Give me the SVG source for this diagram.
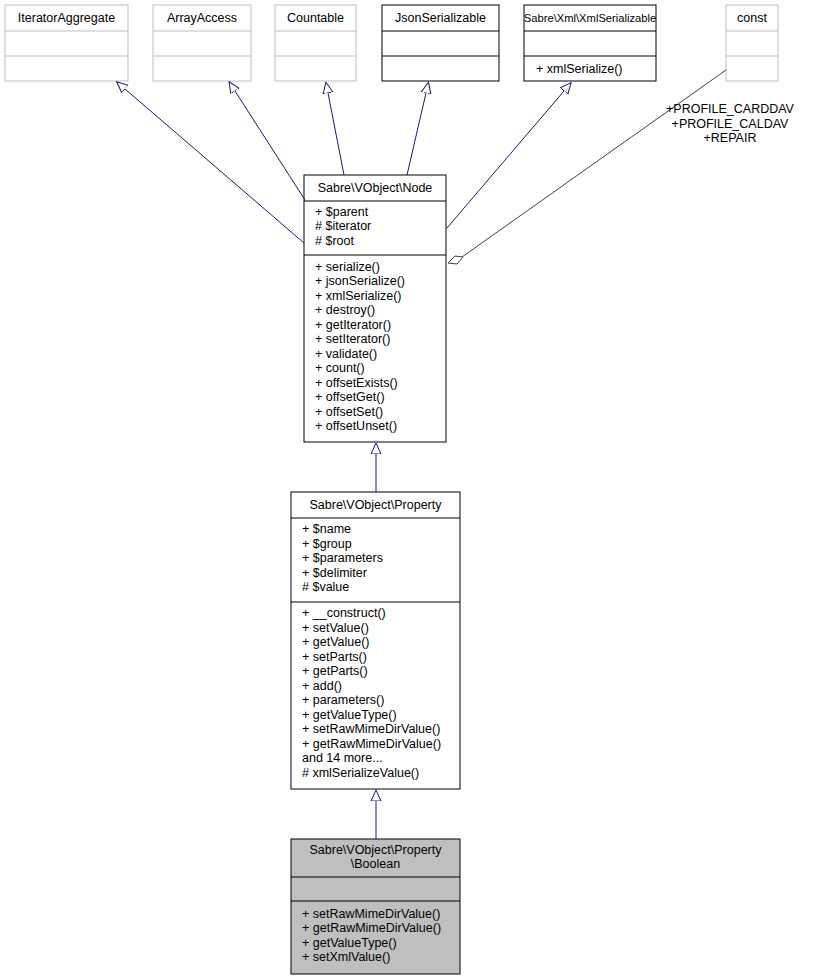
<svg xmlns="http://www.w3.org/2000/svg" width="827" height="980" viewBox="0 0 827 980">
<style>
text{font-family:"Liberation Sans",Arial,sans-serif;font-size:12.5px;fill:#000}
.g rect,.g line{stroke:#bfbfbf;fill:#fff}
.b rect,.b line{stroke:#000;fill:#fff}
.e{stroke:#191970;fill:none}
</style>
<defs>
<marker id="tri" viewBox="0 0 12 12" refX="0" refY="6" markerWidth="12" markerHeight="12" orient="auto-start-reverse" markerUnits="userSpaceOnUse">
<path d="M11,6 L0,1 L0,11 Z" fill="#fff" stroke="#191970"/>
</marker>
</defs>
<rect width="827" height="980" fill="#fff"/>
<g id="IteratorAggregate" class="g"><rect x="5" y="5" width="123" height="76"/><line x1="5" y1="31" x2="128" y2="31"/><line x1="5" y1="56" x2="128" y2="56"/><text x="66.5" y="22" text-anchor="middle">IteratorAggregate</text></g>
<g id="ArrayAccess" class="g"><rect x="153" y="5" width="98" height="76"/><line x1="153" y1="31" x2="251" y2="31"/><line x1="153" y1="56" x2="251" y2="56"/><text x="202" y="22" text-anchor="middle">ArrayAccess</text></g>
<g id="Countable" class="g"><rect x="275" y="5" width="81" height="76"/><line x1="275" y1="31" x2="356" y2="31"/><line x1="275" y1="56" x2="356" y2="56"/><text x="315.5" y="22" text-anchor="middle">Countable</text></g>
<g id="JsonSerializable" class="b"><rect x="382" y="5" width="117" height="76"/><line x1="382" y1="31" x2="499" y2="31"/><line x1="382" y1="56" x2="499" y2="56"/><text x="440.5" y="22" text-anchor="middle">JsonSerializable</text></g>
<g id="XmlSerializable" class="b"><rect x="524" y="5" width="132" height="76"/><line x1="524" y1="31" x2="656" y2="31"/><line x1="524" y1="56" x2="656" y2="56"/><text x="590" y="22" text-anchor="middle" style="font-size:11.2px">Sabre\Xml\XmlSerializable</text><text x="536" y="73">+ xmlSerialize()</text></g>
<g id="const" class="g"><rect x="726" y="5" width="52" height="76"/><line x1="726" y1="31" x2="778" y2="31"/><line x1="726" y1="56" x2="778" y2="56"/><text x="752" y="22" text-anchor="middle">const</text></g>
<g id="Node" class="b"><rect x="304" y="175" width="142" height="267"/><line x1="304" y1="201" x2="446" y2="201"/><line x1="304" y1="255" x2="446" y2="255"/>
<text x="375" y="192" text-anchor="middle">Sabre\VObject\Node</text>
<text x="315" y="216">+ $parent</text><text x="315" y="230"># $iterator</text><text x="315" y="245"># $root</text>
<text x="315" y="271">+ serialize()</text><text x="315" y="285">+ jsonSerialize()</text><text x="315" y="300">+ xmlSerialize()</text><text x="315" y="314">+ destroy()</text><text x="315" y="329">+ getIterator()</text><text x="315" y="343">+ setIterator()</text><text x="315" y="358">+ validate()</text><text x="315" y="372">+ count()</text><text x="315" y="387">+ offsetExists()</text><text x="315" y="401">+ offsetGet()</text><text x="315" y="416">+ offsetSet()</text><text x="315" y="430">+ offsetUnset()</text></g>
<g id="Property" class="b"><rect x="291" y="492" width="169" height="297"/><line x1="291" y1="518" x2="460" y2="518"/><line x1="291" y1="602" x2="460" y2="602"/>
<text x="375.5" y="509" text-anchor="middle">Sabre\VObject\Property</text>
<text x="302" y="533">+ $name</text><text x="302" y="548">+ $group</text><text x="302" y="562">+ $parameters</text><text x="302" y="577">+ $delimiter</text><text x="302" y="591"># $value</text>
<text x="302" y="617">+ __construct()</text><text x="302" y="632">+ setValue()</text><text x="302" y="646">+ getValue()</text><text x="302" y="661">+ setParts()</text><text x="302" y="675">+ getParts()</text><text x="302" y="690">+ add()</text><text x="302" y="704">+ parameters()</text><text x="302" y="719">+ getValueType()</text><text x="302" y="733">+ setRawMimeDirValue()</text><text x="302" y="748">+ getRawMimeDirValue()</text><text x="302" y="762">and 14 more...</text><text x="302" y="777"># xmlSerializeValue()</text></g>
<g id="Boolean"><rect x="291" y="839" width="169" height="135" fill="#bfbfbf" stroke="#000"/><line x1="291" y1="877" x2="460" y2="877" stroke="#000"/><line x1="291" y1="901" x2="460" y2="901" stroke="#000"/>
<text x="375.5" y="854" text-anchor="middle">Sabre\VObject\Property</text><text x="375.5" y="868" text-anchor="middle">\Boolean</text>
<text x="302" y="918">+ setRawMimeDirValue()</text><text x="302" y="932">+ getRawMimeDirValue()</text><text x="302" y="947">+ getValueType()</text><text x="302" y="961">+ setXmlValue()</text></g>
<g id="connectors">
<path class="e" d="M304,243 L125,89" marker-end="url(#tri)"/>
<path class="e" d="M305,200 L235,91" marker-end="url(#tri)"/>
<path class="e" d="M344,175 L328,93" marker-end="url(#tri)"/>
<path class="e" d="M407,175 L426,93" marker-end="url(#tri)"/>
<path class="e" d="M447,228 L564,91" marker-end="url(#tri)"/>
<path class="e" d="M376,492 L376,454" marker-end="url(#tri)"/>
<path class="e" d="M376,839 L376,801" marker-end="url(#tri)"/>
<path d="M726,70 L462,257" stroke="#404040" fill="none"/>
<path d="M448,263 L455,256 L463,257 L457,264 Z" fill="#fff" stroke="#404040"/>
<text x="730" y="113" text-anchor="middle">+PROFILE_CARDDAV</text>
<text x="730" y="128" text-anchor="middle">+PROFILE_CALDAV</text>
<text x="730" y="142" text-anchor="middle">+REPAIR</text>
</g>
</svg>
